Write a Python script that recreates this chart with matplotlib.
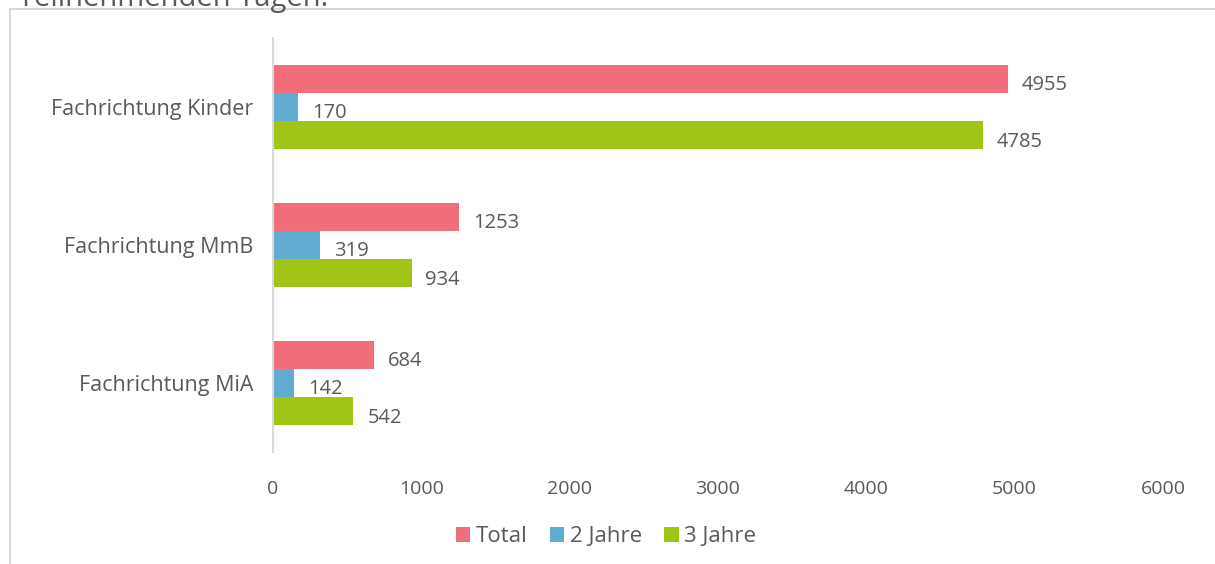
import numpy as np
import matplotlib.pyplot as plt
from matplotlib.patches import Rectangle

categories = ["Fachrichtung Kinder", "Fachrichtung MmB", "Fachrichtung MiA"]
series_names = ["Total", "2 Jahre", "3 Jahre"]
total = [4955, 1253, 684]
zwei_jahre = [170, 319, 142]
drei_jahre = [4785, 934, 542]
xticks = [0, 1000, 2000, 3000, 4000, 5000, 6000]
title = "Teilnehmenden Tagen."

colors = ["#F06E7A", "#62ACD1", "#A1C517"]
grey = "#595959"

plt.rcParams['font.family'] = ['Open Sans', 'DejaVu Sans']

fig = plt.figure(figsize=(12.15, 5.64), dpi=100)
ax = fig.add_axes([273 / 1215, 1 - 452 / 564, 890 / 1215, 414 / 564])

y = np.arange(len(categories))
h = 0.205
for i, (vals, name) in enumerate(zip([total, zwei_jahre, drei_jahre], series_names)):
    pos = y + (i - 1) * h
    ax.barh(pos, vals, height=h, color=colors[i], label=name)
    for p, v in zip(pos, vals):
        ax.annotate(str(v), (v, p), xytext=(10, -4.5), textcoords='offset points',
                    va='center', ha='left', fontsize=14.5, color=grey)

ax.set_ylim(-0.5, len(categories) - 0.5)
ax.invert_yaxis()
ax.set_xlim(0, 6000)
ax.set_yticks(y)
ax.set_yticklabels(categories, fontsize=15.5, color=grey)
ax.set_xticks(xticks)
ax.set_xticklabels([str(t) for t in xticks], fontsize=14, color=grey)
ax.tick_params(axis='both', length=0)
ax.tick_params(axis='x', pad=20)
ax.tick_params(axis='y', pad=14)
for s in ['top', 'right', 'bottom']:
    ax.spines[s].set_visible(False)
ax.spines['left'].set_color('#d9d9d9')
ax.spines['left'].set_linewidth(1.5)

# chart frame (partly cut off)
fig.patches.append(Rectangle((10 / 1215, -0.1), 2, (564 - 9) / 564 + 0.1,
                             transform=fig.transFigure, fill=False,
                             edgecolor='#d9d9d9', linewidth=1.5))
fig.text(18 / 1215, 1 - 6 / 564, title, fontsize=21, color=grey, va='baseline')

fig.legend(loc='center', bbox_to_anchor=(606 / 1215, 1 - 537 / 564), ncol=3,
           frameon=False, fontsize=16, handlelength=0.65, handleheight=0.65,
           handletextpad=0.25, columnspacing=1.0, labelcolor=grey)

fig.savefig('out.png', dpi=100)
